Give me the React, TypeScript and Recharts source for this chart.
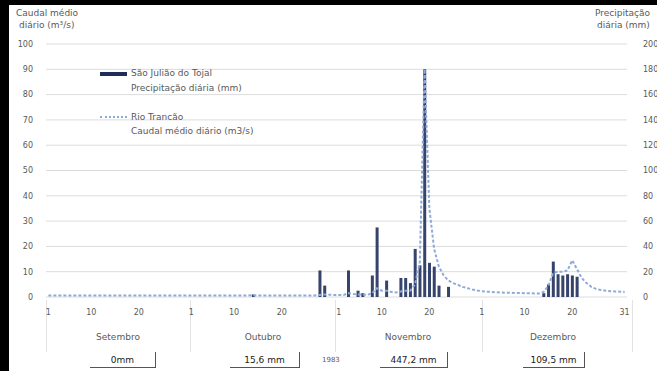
import { ComposedChart, Bar, Line, XAxis, YAxis, CartesianGrid } from "recharts";

// caudal médio diário (m3/s) - Rio Trancão
const caudalSet = [0.6, 0.6, 0.6, 0.6, 0.6, 0.6, 0.6, 0.6, 0.6, 0.6, 0.6, 0.6, 0.6, 0.6, 0.6, 0.6, 0.6, 0.6, 0.6, 0.6, 0.6, 0.6, 0.6, 0.6, 0.6, 0.6, 0.6, 0.6, 0.6, 0.6];
const caudalOut = [0.6, 0.6, 0.6, 0.6, 0.6, 0.6, 0.6, 0.6, 0.6, 0.6, 0.6, 0.6, 0.6, 0.7, 0.6, 0.6, 0.6, 0.6, 0.6, 0.6, 0.6, 0.6, 0.6, 0.6, 0.6, 0.6, 0.6, 0.8, 1.0, 0.9, 0.8];
const caudalNov = [0.8, 0.8, 1.5, 1.2, 1.0, 1.0, 0.9, 1.5, 3.5, 2.5, 2.5, 2.0, 1.8, 2.2, 2.5, 2.5, 5, 14, 90, 35, 19, 12, 8.5, 6.5, 5.5, 4.8, 4, 3.5, 3, 2.6];
const caudalDez = [2.3, 2.1, 2.0, 1.9, 1.8, 1.7, 1.7, 1.6, 1.6, 1.5, 1.5, 1.4, 1.4, 2.0, 4.5, 9.5, 10, 10, 10.5, 14.5, 11, 7.5, 5.5, 4, 3.2, 2.8, 2.5, 2.3, 2.2, 2.1, 2.0];

// precipitação diária (mm) - São Julião do Tojal
const precipSet = [0, 0, 0, 0, 0, 0, 0, 0, 0, 0, 0, 0, 0, 0, 0, 0, 0, 0, 0, 0, 0, 0, 0, 0, 0, 0, 0, 0, 0, 0];
const precipOut = [0, 0, 0, 0, 0, 0, 0, 0, 0, 0, 0, 0, 0, 2, 0, 0, 0, 0, 0, 0, 0, 0, 0, 0, 0, 0, 0, 21, 9, 0, 0];
const precipNov = [0, 0, 21, 0, 5, 3, 0, 17, 55, 0, 13, 0, 0, 15, 15, 11, 38, 25, 180, 27, 24, 9, 0, 8, 0, 0, 0, 0, 0, 0];
const precipDez = [0, 0, 0, 0, 0, 0, 0, 0, 0, 0, 0, 0, 0, 3, 10, 28, 18, 17, 18, 17, 16, 0, 0, 0, 0, 0, 0, 0, 0, 0, 0];

const MESES = ["Setembro", "Outubro", "Novembro", "Dezembro"];
const TOTAIS = ["0mm", "15,6 mm", "447,2 mm", "109,5 mm"];
const DIAS_ROTULO = [1, 10, 20];
const ANO = "1983";

const TICKS_CAUDAL = [0, 10, 20, 30, 40, 50, 60, 70, 80, 90, 100];
const TICKS_PRECIP = [0, 20, 40, 60, 80, 100, 120, 140, 160, 180, 200];

const series = [
    { caudal: caudalSet, precip: precipSet },
    { caudal: caudalOut, precip: precipOut },
    { caudal: caudalNov, precip: precipNov },
    { caudal: caudalDez, precip: precipDez },
];

const data: { id: string; rotulo: string; caudal: number; precip: number }[] = [];
series.forEach((m, mi) => {
    m.caudal.forEach((c, i) => {
        const dia = i + 1;
        const ultimo = mi === series.length - 1 && i === m.caudal.length - 1;
        data.push({
            id: `${mi}-${dia}`,
            rotulo: DIAS_ROTULO.includes(dia) || ultimo ? String(dia) : "",
            caudal: c,
            precip: m.precip[i],
        });
    });
});

const FONT = "'DejaVu Sans', Verdana, sans-serif";
const GREY = "#595959";
const tick = { fontSize: 8, fill: GREY, fontFamily: FONT };

// posições das legendas inferiores
const MES_X = [118, 263, 408, 553];
const CAIXA = [
    { left: 90, width: 66 },
    { left: 230, width: 70 },
    { left: 380, width: 68 },
    { left: 523, width: 62 },
];
const SEPARADORES = [46, 190, 335, 482, 632];

const txt = (extra: React.CSSProperties): React.CSSProperties => ({
    position: "absolute",
    fontFamily: FONT,
    fontSize: 9,
    color: GREY,
    whiteSpace: "nowrap",
    lineHeight: "11px",
    ...extra,
});

export default function App() {
    return (
        <div style={{ position: "absolute", left: 0, top: 0, width: 657, height: 371, background: "#000", overflow: "hidden" }}>
            <div style={{ position: "absolute", left: 9, top: 5, width: 648, height: 366, background: "#fff" }} />

            {SEPARADORES.map((x) => (
                <div key={x} style={{ position: "absolute", left: x, top: 300, width: 1, height: 52, background: "#e3e3e3" }} />
            ))}

            <div style={{ position: "absolute", left: 0, top: 0 }}>
                <ComposedChart
                    width={657}
                    height={371}
                    data={data}
                    margin={{ top: 44, right: 0, bottom: 0, left: 0 }}
                    barCategoryGap={0}
                >
                    <CartesianGrid yAxisId="left" vertical={false} stroke="#dcdcdc" />
                    <XAxis
                        dataKey="id"
                        height={74}
                        interval={0}
                        tickLine={false}
                        axisLine={false}
                        tickMargin={6}
                        tick={tick}
                        tickFormatter={(_v, i) => data[i]?.rotulo ?? ""}
                    />
                    <YAxis
                        yAxisId="left"
                        domain={[0, 100]}
                        ticks={TICKS_CAUDAL}
                        width={46}
                        tickLine={false}
                        axisLine={false}
                        tickMargin={7}
                        tick={tick}
                    />
                    <YAxis
                        yAxisId="right"
                        orientation="right"
                        domain={[0, 200]}
                        ticks={TICKS_PRECIP}
                        width={30}
                        tickLine={false}
                        axisLine={false}
                        tickMargin={10}
                        tick={{ ...tick, textAnchor: "start" }}
                    />
                    <Bar yAxisId="right" dataKey="precip" fill="#36446c" barSize={3} isAnimationActive={false} />
                    <Line
                        yAxisId="left"
                        type="linear"
                        dataKey="caudal"
                        stroke="#8eaad8"
                        strokeWidth={2}
                        strokeDasharray="3 2"
                        dot={false}
                        isAnimationActive={false}
                    />
                </ComposedChart>
            </div>

            {/* títulos dos eixos */}
            <div style={txt({ left: 16, top: 8 })}>Caudal médio</div>
            <div style={txt({ left: 19, top: 20 })}>diário (m³/s)</div>
            <div style={txt({ left: 595, top: 8 })}>Precipitação</div>
            <div style={txt({ left: 597, top: 20 })}>diária (mm)</div>

            {/* legenda */}
            <div style={{ position: "absolute", left: 100, top: 72, width: 27, height: 4, background: "#1f2d5a" }} />
            <div style={txt({ left: 131, top: 68 })}>São Julião do Tojal</div>
            <div style={txt({ left: 131, top: 83 })}>Precipitação diária (mm)</div>
            <div style={{ position: "absolute", left: 100, top: 116, width: 27, height: 0, borderTop: "2px dotted #8eaad8" }} />
            <div style={txt({ left: 131, top: 112 })}>Rio Trancão</div>
            <div style={txt({ left: 131, top: 126 })}>Caudal médio diário (m3/s)</div>

            {/* meses e totais */}
            {MESES.map((m, i) => (
                <div key={m} style={txt({ left: MES_X[i] - 45, width: 90, textAlign: "center", top: 332 })}>{m}</div>
            ))}
            {TOTAIS.map((t, i) => (
                <div
                    key={t}
                    style={txt({
                        left: CAIXA[i].left,
                        width: CAIXA[i].width,
                        top: 352,
                        height: 16,
                        lineHeight: "16px",
                        textAlign: "center",
                        color: "#1a1a1a",
                        borderRight: "1px solid #555",
                        borderBottom: "1px solid #555",
                        boxSizing: "border-box",
                    })}
                >
                    {t}
                </div>
            ))}
            <div style={txt({ left: 322, top: 355, fontSize: 7 })}>{ANO}</div>
        </div>
    );
}
